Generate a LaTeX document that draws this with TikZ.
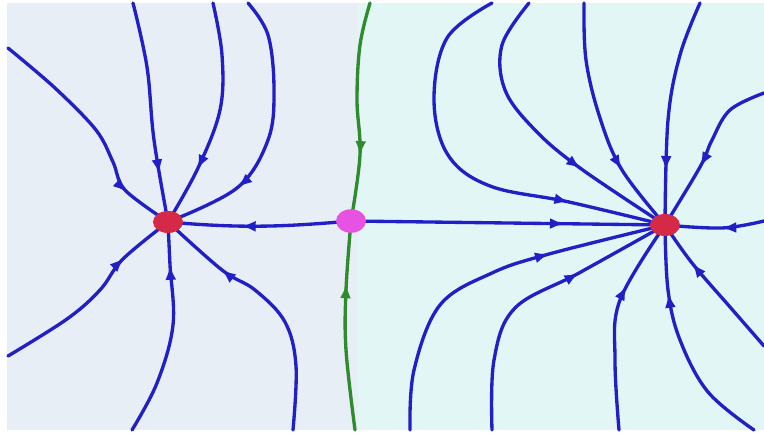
\documentclass[tikz,border=0pt]{standalone}
\usepackage{tikz}
\usetikzlibrary{arrows.meta, decorations.markings, backgrounds, shapes.geometric}
\definecolor{flowblue}{HTML}{2020C6}
\definecolor{sepgreen}{HTML}{2E8B2E}
\definecolor{sinkred}{HTML}{D42A48}
\definecolor{saddlepink}{HTML}{E752E3}
\definecolor{leftbg}{HTML}{E8EEF5}
\definecolor{rightbg}{HTML}{E3F6F6}

\begin{document}
\begin{tikzpicture}[x=0.02cm, y=-0.02cm,
  sink/.style={ellipse, fill=sinkred, minimum width=0.6cm, minimum height=0.44cm, inner sep=0pt},
  saddle/.style={ellipse, fill=saddlepink, minimum width=0.6cm, minimum height=0.47cm, inner sep=0pt},
  flowline/.style={line width=1.9pt, flowblue, line cap=round, postaction={decorate},
    decoration={markings, mark=at position #1 with {\arrow{Latex[length=2.9mm, width=2.2mm]}}}},
  sepline/.style={flowline=#1, sepgreen}
]
  \useasboundingbox (0,0) rectangle (764,433);
  % equilibria
  \node[sink] (L) at (168,222) {};
  \node[saddle] (S) at (351,221) {};
  \node[sink] (R) at (665,225) {};

  % free ends of the trajectories
  \coordinate (l1) at (8,48);    \coordinate (l2) at (133,3);
  \coordinate (l3) at (213,3);   \coordinate (l4) at (248,3);
  \coordinate (l5) at (8,356);   \coordinate (l6) at (132,430);
  \coordinate (l7) at (293,430);
  \coordinate (gt) at (370,3);   \coordinate (gb) at (355,430);
  \coordinate (r1) at (492,3);   \coordinate (r2) at (529,3);
  \coordinate (r3) at (584,3);   \coordinate (r4) at (700,3);
  \coordinate (r5) at (764,93);  \coordinate (r6) at (764,221);
  \coordinate (r7) at (410,430); \coordinate (r8) at (492,430);
  \coordinate (r9) at (619,430); \coordinate (r10) at (754,430);
  \coordinate (r11) at (764,346);

  \begin{scope}[on background layer]
    \fill[white] (0,0) rectangle (764,433);
    \fill[leftbg] (7,3) rectangle (358,430);
    \fill[rightbg] (358,3) rectangle (764,430);

    % left sink
    \draw[flowline=0.79] plot[smooth, tension=0.55] coordinates {(l1) (55,88) (96,130) (113,162) (125,190) (L.center)};
    \draw[flowline=0.78] plot[smooth, tension=0.6] coordinates {(l2) (147,67) (154,140) (L.center)};
    \draw[flowline=0.74] plot[smooth, tension=0.6] coordinates {(l3) (222,55) (220,110) (198,168) (L.center)};
    \draw[flowline=0.72] plot[smooth, tension=0.6] coordinates {(l4) (268,35) (274,90) (268,140) (237,188) (L.center)};
    \draw[flowline=0.73] plot[smooth, tension=0.6] coordinates {(l5) (67,319) (100,290) (123,259) (L.center)};
    \draw[flowline=0.8] plot[smooth, tension=0.6] coordinates {(l6) (157,383) (173,325) (170,265) (L.center)};
    \draw[flowline=0.73] plot[smooth, tension=0.6] coordinates {(l7) (296,366) (285,322) (255,290) (222,270) (L.center)};
    \draw[flowline=0.6] (S.center) to[out=185, in=-5] (L.center);

    % separatrix through the saddle
    \draw[sepline=0.7] plot[smooth, tension=0.6] coordinates {(gt) (360,45) (357,100) (360,155) (S.center)};
    \draw[sepline=0.7] plot[smooth, tension=0.6] coordinates {(gb) (346,350) (346,290) (S.center)};

    % right sink
    \draw[flowline=0.68] (S.center) -- (R.center);
    \draw[flowline=0.76] plot[smooth, tension=0.6] coordinates {(r1) (447,38) (434,100) (448,155) (490,186) (569,202) (R.center)};
    \draw[flowline=0.67] plot[smooth, tension=0.6] coordinates {(r2) (502,45) (505,90) (535,130) (580,168) (R.center)};
    \draw[flowline=0.71] plot[smooth, tension=0.6] coordinates {(r3) (586,60) (600,118) (622,170) (R.center)};
    \draw[flowline=0.76] plot[smooth, tension=0.6] coordinates {(r4) (680,55) (668,120) (R.center)};
    \draw[flowline=0.6] plot[smooth, tension=0.6] coordinates {(r5) (730,110) (712,140) (700,167) (R.center)};
    \draw[flowline=0.43] plot[smooth, tension=0.6] coordinates {(r6) (722,228) (R.center)};
    \draw[flowline=0.68] plot[smooth, tension=0.6] coordinates {(r7) (414,370) (440,305) (492,273) (549,254) (R.center)};
    \draw[flowline=0.67] plot[smooth, tension=0.6] coordinates {(r8) (494,360) (515,308) (579,273) (R.center)};
    \draw[flowline=0.67] plot[smooth, tension=0.6] coordinates {(r9) (615,360) (620,300) (R.center)};
    \draw[flowline=0.71] plot[smooth, tension=0.6] coordinates {(r10) (708,392) (680,340) (668,290) (R.center)};
    \draw[flowline=0.7] plot[smooth, tension=0.6] coordinates {(r11) (730,307) (692,263) (R.center)};
  \end{scope}
\end{tikzpicture}
\end{document}
